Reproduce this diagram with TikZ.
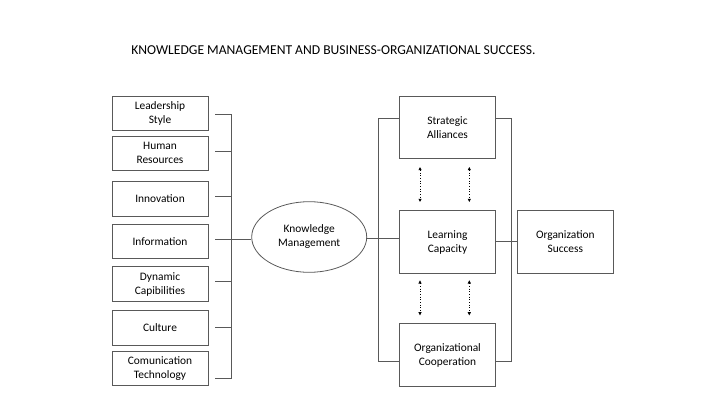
\documentclass[tikz,border=0pt]{standalone}
\usepackage{fontspec}
\setmainfont{Carlito}
\usetikzlibrary{shapes.geometric,arrows.meta}
\begin{document}
\begin{tikzpicture}[x=1pt,y=-1pt,
  line/.style={draw=black!65,line width=0.8pt},
  lbox/.style={draw=black!65,line width=0.8pt,minimum width=96pt,minimum height=34.5pt,align=center,font=\fontsize{11.4}{14}\selectfont,inner sep=1pt},
  rbox/.style={draw=black!65,line width=0.8pt,minimum width=96.4pt,minimum height=62.5pt,align=center,font=\fontsize{11.4}{14}\selectfont,inner sep=1pt},
  darrow/.style={draw=black,line width=0.7pt,dotted,{Latex[length=3.5pt,width=3.5pt]}-{Latex[length=3.5pt,width=3.5pt]}}]
\useasboundingbox (0,0) rectangle (727,409);
\node[font=\fontsize{13.6}{16}\selectfont] (title) at (333.4,50) {KNOWLEDGE MANAGEMENT AND BUSINESS-ORGANIZATIONAL SUCCESS.};
% left boxes
\node[lbox] (ls) at (160,113.3) {Leadership\\Style};
\node[lbox] (hr) at (160,153.3) {Human\\Resources};
\node[lbox] (inn) at (160,199) {Innovation};
\node[lbox] (inf) at (160,241.3) {Information};
\node[lbox] (dc) at (160,284) {Dynamic\\Capibilities};
\node[lbox] (cu) at (160,328) {Culture};
\node[lbox] (ct) at (160,368.5) {Comunication\\Technology};
% bracket
\coordinate (b1) at (215,114.3);
\coordinate (b2) at (215,151.3);
\coordinate (b3) at (215,196);
\coordinate (b4) at (215,239.3);
\coordinate (b5) at (215,281);
\coordinate (b6) at (215,327.3);
\coordinate (b7) at (215,378.3);
\coordinate (bt) at (231.7,114.3);
\coordinate (bb) at (231.7,378.3);
\draw[line] (b1) -- (bt) -- (bb) -- (b7);
\draw[line] (b2) -- (b2 -| bt);
\draw[line] (b3) -- (b3 -| bt);
\draw[line] (b5) -- (b5 -| bt);
\draw[line] (b6) -- (b6 -| bt);
% ellipse
\node[draw=black!65,line width=0.8pt,ellipse,minimum width=115pt,minimum height=70.6pt,align=center,font=\fontsize{11.4}{14}\selectfont,inner sep=0pt] (km) at (309.2,237) {Knowledge\\Management};
\draw[line] (b4) -- (km.west |- b4);
% middle column
\node[rbox] (sa) at (447.5,127.5) {Strategic\\Alliances};
\node[rbox] (lc) at (447.5,242) {Learning\\Capacity};
\node[rbox] (oc) at (447.5,355) {Organizational\\Cooperation};
\node[rbox,minimum width=96pt] (os) at (565.3,242) {Organization\\Success};
% middle brackets
\coordinate (mlt) at (378.3,118.3);
\coordinate (mlb) at (378.3,361);
\coordinate (mrt) at (511.7,118.3);
\coordinate (mrb) at (511.7,361);
\draw[line] (sa.west |- mlt) -- (mlt) -- (mlb) -- (oc.west |- mlb);
\draw[line] (sa.east |- mrt) -- (mrt) -- (mrb) -- (oc.east |- mrb);
\draw[line] (km.east |- 0,238.3) -- (lc.west |- 0,238.3);
\draw[line] (lc.east |- 0,241) -- (os.west |- 0,241);
% dotted arrows
\coordinate (a1t) at (420,166.7); \coordinate (a1b) at (420,202.3);
\coordinate (a2t) at (469.3,166.7); \coordinate (a2b) at (469.3,202.3);
\coordinate (a3t) at (420,280); \coordinate (a3b) at (420,315.7);
\coordinate (a4t) at (469.3,280); \coordinate (a4b) at (469.3,315.7);
\draw[darrow] (a1t) -- (a1b);
\draw[darrow] (a2t) -- (a2b);
\draw[darrow] (a3t) -- (a3b);
\draw[darrow] (a4t) -- (a4b);
\end{tikzpicture}
\end{document}
